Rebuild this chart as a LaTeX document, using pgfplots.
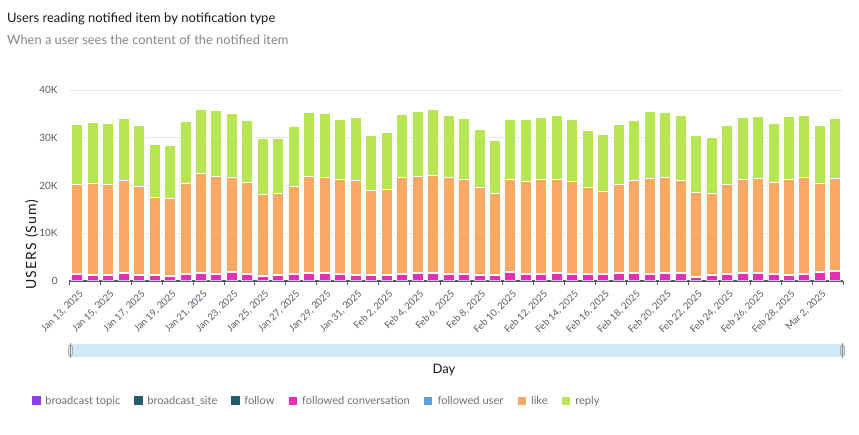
\documentclass[border=0pt]{standalone}
\usepackage{fontspec}
\setmainfont{Lato}
\usepackage{pgfplots}
\usepackage{pgfplotstable}
\pgfplotsset{compat=1.18}
\definecolor{cbt}{HTML}{8C3FF2}
\definecolor{cbs}{HTML}{235B73}
\definecolor{cfo}{HTML}{1F5A70}
\definecolor{cfc}{HTML}{E62DB6}
\definecolor{cfu}{HTML}{5E9DE0}
\definecolor{clike}{HTML}{F9A964}
\definecolor{creply}{HTML}{B8E553}
\definecolor{titlec}{HTML}{16191F}
\definecolor{subc}{HTML}{7F8790}
\definecolor{tickc}{HTML}{545B64}
\definecolor{legc}{HTML}{687078}
\definecolor{gridc}{HTML}{E6E8EA}
\definecolor{axisc}{HTML}{545B64}
\definecolor{scrollc}{HTML}{D3EAF6}
\definecolor{handlec}{HTML}{8A9096}
\definecolor{handlefill}{HTML}{E4E6E8}

\pgfplotstableread{
idx bt bs fo fc fu like reply
0 30 5 10 1380 250 18470 12570
1 25 5 10 1100 250 19100 12700
2 30 5 10 1200 250 18720 12730
3 30 5 10 1600 250 19230 12920
4 25 5 10 1200 250 18370 12640
5 25 5 10 1100 250 16170 10960
6 20 5 10 970 250 16090 11030
7 30 5 10 1380 250 18820 12850
8 30 5 10 1600 250 20630 13520
9 30 5 10 1380 250 20220 13750
10 30 5 10 1800 250 19590 13330
11 30 5 10 1380 250 18960 13110
12 20 5 10 970 250 16860 11800
13 25 5 10 1100 250 17010 11440
14 30 5 10 1300 250 18210 12490
15 30 5 10 1500 250 20030 13400
16 30 5 10 1500 250 19960 13330
17 30 5 10 1380 250 19660 12570
18 25 5 10 1200 250 19630 13200
19 25 5 10 1100 250 17640 11510
20 25 5 10 1050 250 17760 12080
21 30 5 10 1380 250 20080 13120
22 30 5 10 1500 250 20170 13620
23 30 5 10 1600 250 20140 13890
24 30 5 10 1380 250 20080 12910
25 30 5 10 1380 250 19660 12780
26 25 5 10 1200 250 18170 12000
27 25 5 10 1100 250 17010 11100
28 30 5 10 1800 250 19100 12630
29 30 5 10 1380 250 19240 12850
30 30 5 10 1380 250 19660 12850
31 30 5 10 1500 250 19540 13410
32 30 5 10 1380 250 19240 12990
33 25 5 10 1250 250 17980 12000
34 30 5 10 1380 250 17150 11800
35 30 5 10 1500 250 18420 12500
36 30 5 10 1500 250 19260 12640
37 30 5 10 1380 250 19800 13960
38 30 5 10 1500 250 19960 13610
39 30 5 10 1500 250 19330 13620
40 20 5 10 750 250 17570 11930
41 25 5 10 1200 250 16910 11590
42 30 5 10 1380 250 18610 12280
43 30 5 10 1500 250 19540 12990
44 30 5 10 1600 250 19650 12990
45 30 5 10 1380 250 18960 12430
46 25 5 10 1200 250 19840 13120
47 30 5 10 1380 250 20080 12840
48 30 5 10 1700 250 18500 12150
49 30 5 10 1950 300 19160 12710
}\datatable

\begin{document}
\begin{tikzpicture}
\path[use as bounding box] (0pt,0pt) rectangle (859pt,434pt);
% title & subtitle
\node[anchor=base west, inner sep=0, font=\fontsize{13}{15}\selectfont, text=titlec] at (7pt,411.3pt) {Users reading notified item by notification type};
\node[anchor=base west, inner sep=0, font=\fontsize{12.9}{15}\selectfont, text=subc] at (7pt,389pt) {When a user sees the content of the notified item};
% y label
\node[anchor=base, inner sep=0, rotate=90, font=\fontsize{14}{16}\selectfont\addfontfeatures{LetterSpace=8}, text=titlec] at (36pt,189.5pt) {USERS (Sum)};
% scroll bar
\fill[scrollc] (70pt,76.7pt) rectangle (843pt,90pt);
\draw[handlec, fill=handlefill, rounded corners=1.5pt, line width=0.6pt] (68.3pt,78pt) rectangle (72.3pt,89pt);
\draw[handlec, line width=0.6pt] (70.3pt,76pt) -- (70.3pt,91pt);
\draw[handlec, fill=handlefill, rounded corners=1.5pt, line width=0.6pt] (840.7pt,78pt) rectangle (844.7pt,89pt);
\draw[handlec, line width=0.6pt] (842.7pt,76pt) -- (842.7pt,91pt);
% x label
\node[anchor=base, inner sep=0, font=\fontsize{13}{15}\selectfont, text=titlec] at (444pt,61pt) {Day};
\begin{axis}[
  at={(69.3pt,153pt)}, anchor=south west,
  scale only axis, width=773.7pt, height=191pt,
  ybar stacked, bar width=11pt,
  xmin=-0.5, xmax=49.5, ymin=0, ymax=40000,
  scaled y ticks=false,
  axis x line*=bottom, axis y line*=left,
  x axis line style={-, draw=axisc, line width=1.2pt},
  y axis line style={draw=none},
  ymajorgrids, grid style={draw=gridc, line width=0.8pt},
  ytick={0,10000,20000,30000,40000},
  yticklabels={0,10K,20K,30K,40K},
  ytick style={draw=none},
  y tick label style={font=\fontsize{10}{12}\selectfont, text=tickc, inner sep=0pt, xshift=-7.5pt},
  xtick={-0.5,1.5,3.5,5.5,7.5,9.5,11.5,13.5,15.5,17.5,19.5,21.5,23.5,25.5,27.5,29.5,31.5,33.5,35.5,37.5,39.5,41.5,43.5,45.5,47.5,49.5},
  xticklabels={{Jan 13, 2025},{Jan 15, 2025},{Jan 17, 2025},{Jan 19, 2025},{Jan 21, 2025},{Jan 23, 2025},{Jan 25, 2025},{Jan 27, 2025},{Jan 29, 2025},{Jan 31, 2025},{Feb 2, 2025},{Feb 4, 2025},{Feb 6, 2025},{Feb 8, 2025},{Feb 10, 2025},{Feb 12, 2025},{Feb 14, 2025},{Feb 16, 2025},{Feb 18, 2025},{Feb 20, 2025},{Feb 22, 2025},{Feb 24, 2025},{Feb 26, 2025},{Feb 28, 2025},{Mar 2, 2025},{}},
  xtick style={draw=axisc, line width=1pt},
  major tick length=4pt, tick align=outside,
  x tick label style={font=\fontsize{9.6}{11}\selectfont, text=tickc, inner sep=0pt, xshift=9.5pt, yshift=-4pt, rotate=45, anchor=north east},
  legend columns=7,
  legend style={at={(-0.0486,-0.627)}, anchor=west, draw=none, fill=none, inner sep=0pt,
    font=\fontsize{11.1}{13}\selectfont, text=legc,
    /tikz/every odd column/.append style={column sep=2.5pt},
    /tikz/every even column/.append style={column sep=11.5pt}},
  sq/.style={legend image code/.code={\fill[##1] (0pt,-4.5pt) rectangle (9pt,4.5pt);}},
]
\addplot[fill=cbt, draw=none, sq] table[x=idx, y=bt] {\datatable};
\addlegendentry{broadcast topic}
\addplot[fill=cbs, draw=none, sq] table[x=idx, y=bs] {\datatable};
\addlegendentry{broadcast\_site}
\addplot[fill=cfo, draw=none, sq] table[x=idx, y=fo] {\datatable};
\addlegendentry{follow}
\addplot[fill=cfc, draw=white, line width=0.7pt, sq] table[x=idx, y=fc] {\datatable};
\addlegendentry{followed conversation}
\addplot[fill=cfu, draw=white, line width=0.7pt, sq] table[x=idx, y=fu] {\datatable};
\addlegendentry{followed user}
\addplot[fill=clike, draw=white, line width=0.7pt, sq] table[x=idx, y=like] {\datatable};
\addlegendentry{like}
\addplot[fill=creply, draw=white, line width=0.7pt, sq] table[x=idx, y=reply] {\datatable};
\addlegendentry{reply}
\end{axis}
\end{tikzpicture}
\end{document}
